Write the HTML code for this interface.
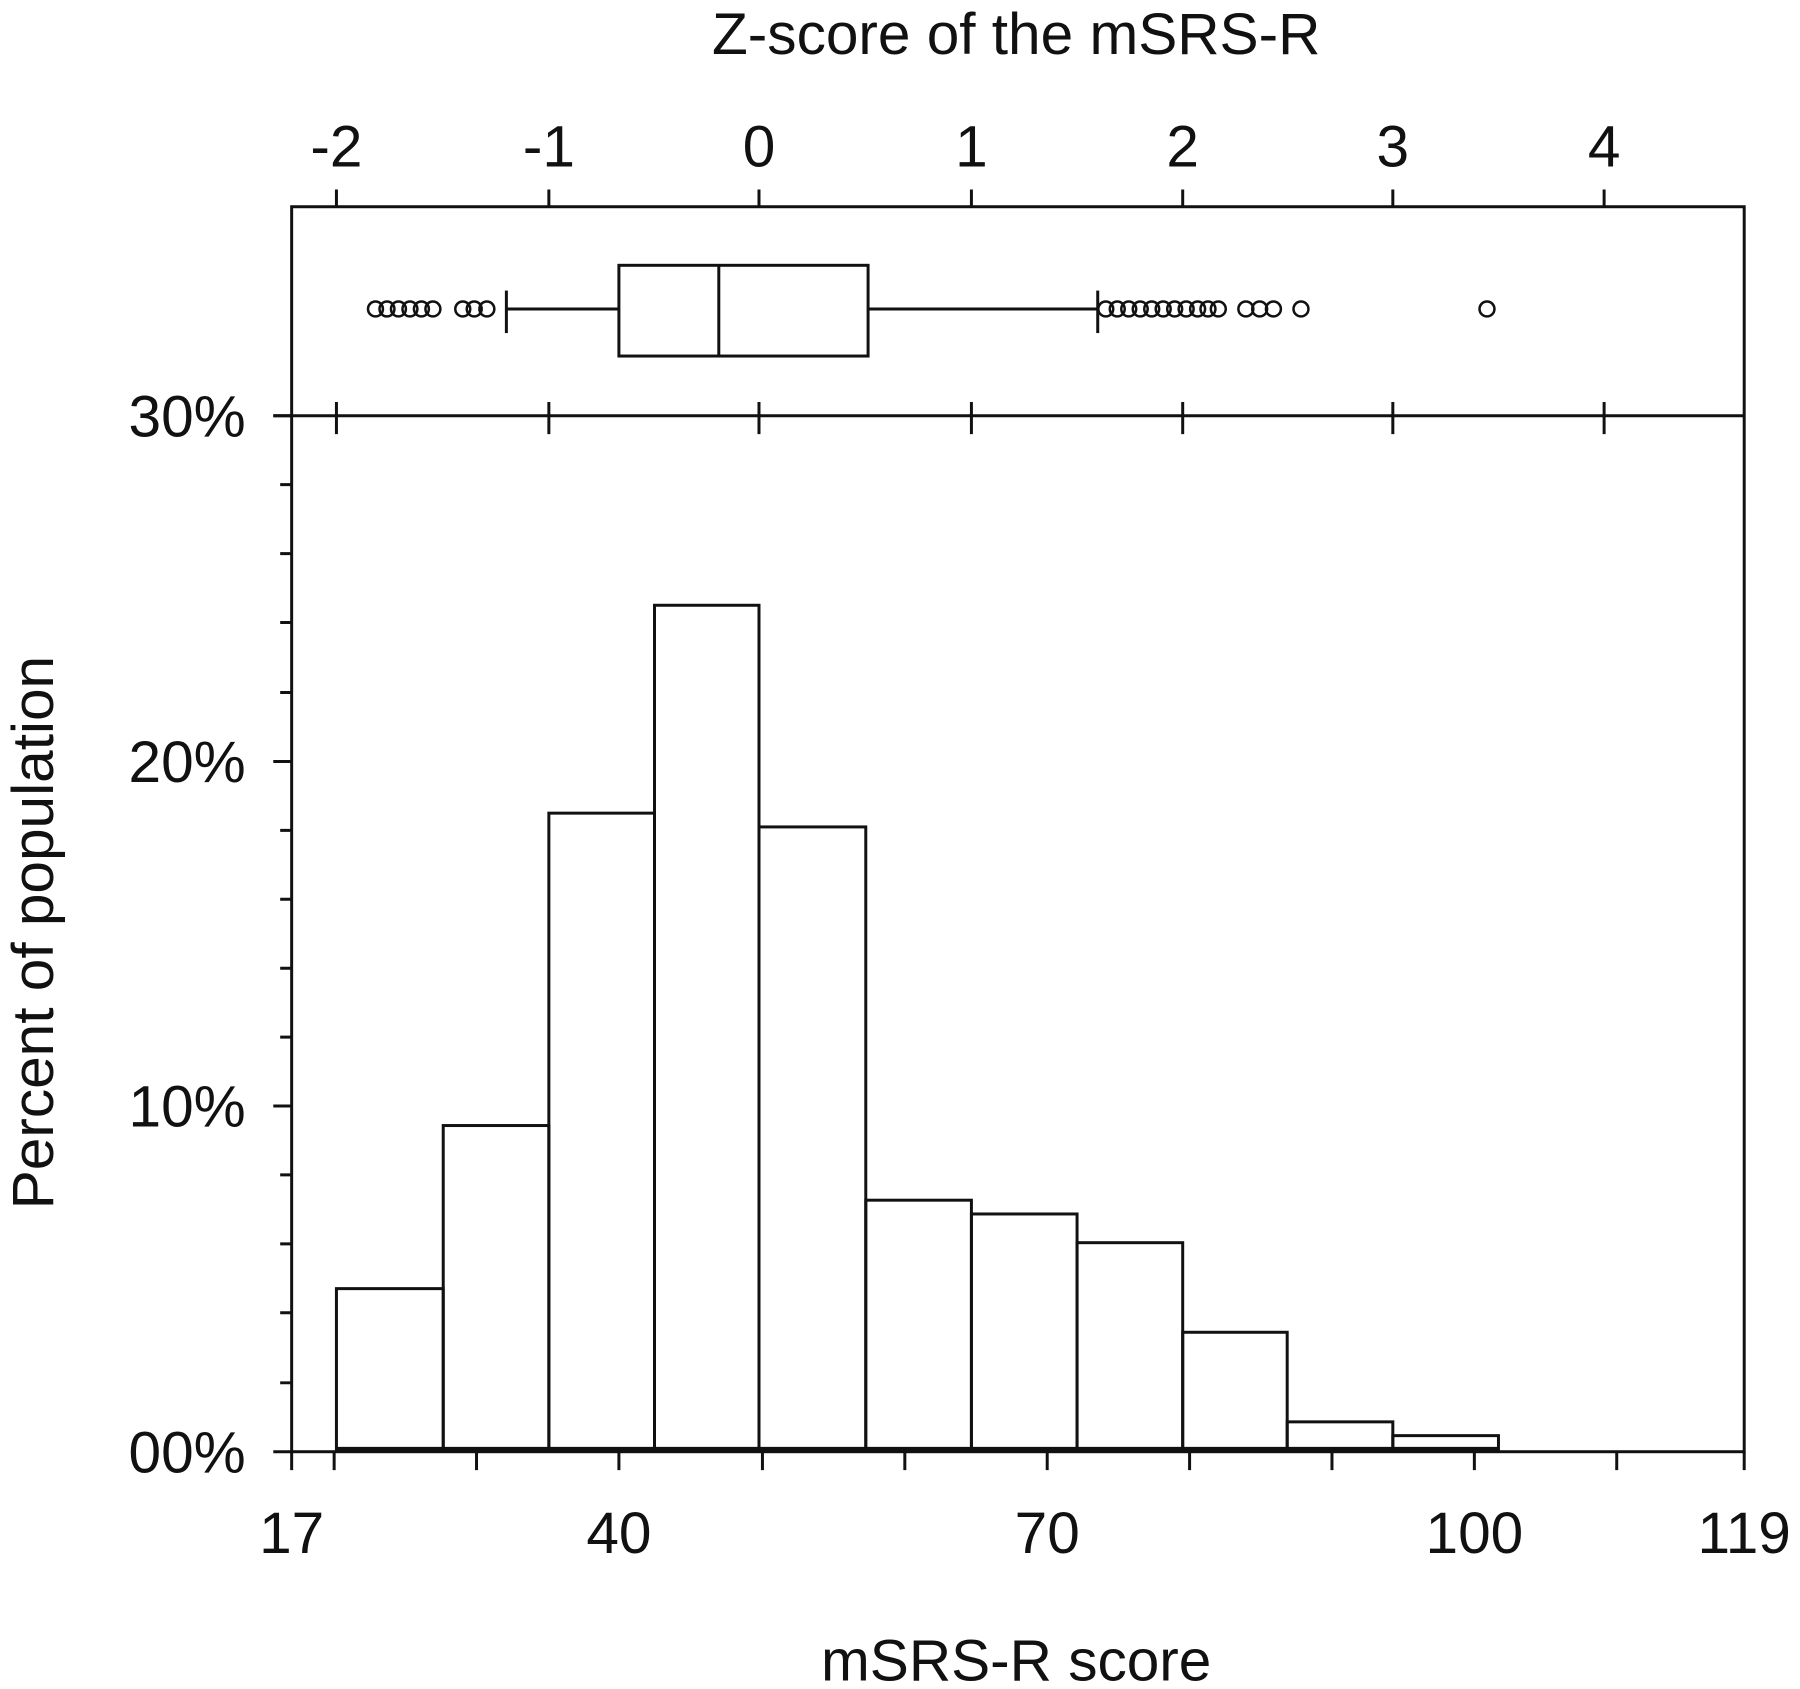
<!DOCTYPE html>
<html><head><meta charset="utf-8"><style>
html,body{margin:0;padding:0;background:#fff}
svg{display:block}
text{font-family:"Liberation Sans",Arial,sans-serif;fill:#111}
</style></head><body>
<svg width="1800" height="1689" viewBox="0 0 1567.6 1470.6" preserveAspectRatio="none" xmlns="http://www.w3.org/2000/svg">
<g stroke="#111" stroke-width="2.6" fill="none">
<rect x="254" y="180" width="1265" height="1084"/>
<line x1="238" y1="362" x2="1519" y2="362"/>
<path d="M293 165V180M478 165V180M661 165V180M846 165V180M1030 165V180M1213 165V180M1397 165V180"/>
<path d="M293 350V378M478 350V378M661 350V378M846 350V378M1030 350V378M1213 350V378M1397 350V378"/>
<path d="M238 362H254M244 422H254M244 482H254M244 542H254M244 603H254M238 663H254M244 723H254M244 783H254M244 843H254M244 903H254M238 963H254M244 1023H254M244 1083H254M244 1143H254M244 1204H254M238 1264H254"/>
<path d="M254 1264V1280M291 1264V1280M415 1264V1280M539 1264V1280M664 1264V1280M788 1264V1280M912 1264V1280M1036 1264V1280M1160 1264V1280M1284 1264V1280M1408 1264V1280M1519 1264V1280"/>
<rect x="293" y="1122" width="93" height="140"/>
<rect x="386" y="980" width="92" height="282"/>
<rect x="478" y="708" width="92" height="554"/>
<rect x="570" y="527" width="91" height="735"/>
<rect x="661" y="720" width="93" height="542"/>
<rect x="754" y="1045" width="92" height="217"/>
<rect x="846" y="1057" width="92" height="205"/>
<rect x="938" y="1082" width="92" height="180"/>
<rect x="1030" y="1160" width="91" height="102"/>
<rect x="1121" y="1238" width="92" height="24"/>
<rect x="1213" y="1250" width="92" height="12"/>
<line x1="293" y1="1262" x2="1305" y2="1262" stroke-width="4.5"/>
<rect x="539" y="231" width="217" height="79"/>
<line x1="626" y1="231" x2="626" y2="310"/>
<line x1="441" y1="269" x2="539" y2="269"/>
<line x1="756" y1="269" x2="956" y2="269"/>
<line x1="441" y1="253" x2="441" y2="290"/>
<line x1="956" y1="253" x2="956" y2="290"/>
<g stroke-width="2.2">
<circle cx="327" cy="269" r="6.5"/><circle cx="337" cy="269" r="6.5"/><circle cx="347" cy="269" r="6.5"/><circle cx="357" cy="269" r="6.5"/><circle cx="367" cy="269" r="6.5"/><circle cx="377" cy="269" r="6.5"/>
<circle cx="403" cy="269" r="6.5"/><circle cx="413" cy="269" r="6.5"/><circle cx="424" cy="269" r="6.5"/>
<circle cx="963" cy="269" r="6.5"/><circle cx="973" cy="269" r="6.5"/><circle cx="983" cy="269" r="6.5"/><circle cx="993" cy="269" r="6.5"/><circle cx="1003" cy="269" r="6.5"/><circle cx="1013" cy="269" r="6.5"/><circle cx="1023" cy="269" r="6.5"/><circle cx="1033" cy="269" r="6.5"/><circle cx="1043" cy="269" r="6.5"/><circle cx="1052" cy="269" r="6.5"/><circle cx="1061" cy="269" r="6.5"/>
<circle cx="1085" cy="269" r="6.5"/><circle cx="1097" cy="269" r="6.5"/><circle cx="1109" cy="269" r="6.5"/>
<circle cx="1133" cy="269" r="6.5"/><circle cx="1295" cy="269" r="6.5"/>
</g>
</g>
<g font-size="51">
<text x="885" y="47" text-anchor="middle">Z-score of the mSRS-R</text>
<g text-anchor="middle">
<text x="293" y="145">-2</text><text x="478" y="145">-1</text><text x="661" y="145">0</text><text x="846" y="145">1</text><text x="1030" y="145">2</text><text x="1213" y="145">3</text><text x="1397" y="145">4</text>
<text x="254" y="1352">17</text><text x="539" y="1352">40</text><text x="912" y="1352">70</text><text x="1284" y="1352">100</text><text x="1519" y="1352">119</text>
<text x="885" y="1463">mSRS-R score</text>
</g>
<g text-anchor="end">
<text x="214" y="380">30%</text><text x="214" y="681">20%</text><text x="214" y="981">10%</text><text x="214" y="1282">00%</text>
</g>
<text transform="translate(46 812) rotate(-90)" text-anchor="middle">Percent of population</text>
</g>
</svg>
</body></html>
